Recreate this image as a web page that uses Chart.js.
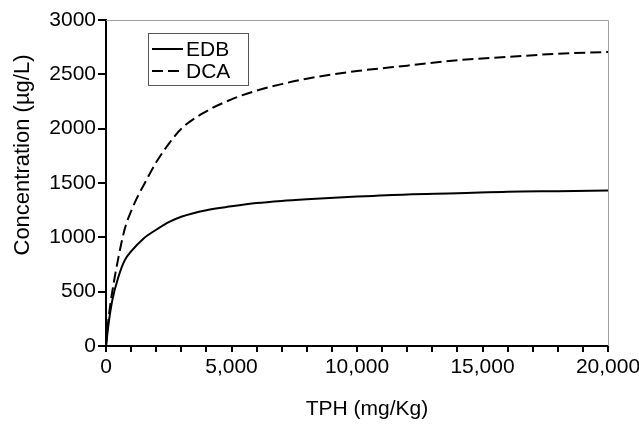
<!DOCTYPE html>
<html>
<head>
<meta charset="utf-8">
<script src="https://cdn.jsdelivr.net/npm/chart.js@4"></script>
<style>
  html, body { margin: 0; padding: 0; background: #fff; }
  #wrap { width: 639px; height: 424px; }
</style>
</head>
<body>
<div id="wrap"><canvas id="chart" width="639" height="424"></canvas></div>
<script>
// Values
var edbX = [0, 100, 250, 500, 750, 1000, 1500, 2000, 2500, 3000, 4000, 5000, 6000, 7000, 8000, 10000, 12000, 14000, 16000, 18000, 20000];
var edbY = [0, 200, 420, 640, 790, 870, 990, 1070, 1140, 1190, 1250, 1285, 1315, 1335, 1350, 1375, 1395, 1405, 1420, 1425, 1430];

var dcaX = [0, 100, 250, 500, 750, 1000, 1250, 1500, 2000, 2500, 3000, 4000, 5000, 6000, 7000, 8000, 10000, 12000, 14000, 16000, 18000, 20000];
var dcaY = [0, 250, 500, 820, 1080, 1240, 1370, 1480, 1690, 1860, 2000, 2160, 2270, 2350, 2410, 2460, 2530, 2580, 2630, 2660, 2690, 2705];

var xTicks = [0, 5000, 10000, 15000, 20000];
var yTicks = [0, 500, 1000, 1500, 2000, 2500, 3000];

var xTitle = 'TPH (mg/Kg)';
var yTitle = 'Concentration (µg/L)';

var FONT = "'Liberation Sans', Arial, sans-serif";

function toPoints(xs, ys) {
    return xs.map((x, i) => ({ x: x, y: ys[i] }));
}

// gray frame on top/right, axis titles and the boxed legend
var framePlugin = {
    id: 'frame',
    afterDraw(chart) {
        var ctx = chart.ctx;
        var a = chart.chartArea;
        ctx.save();
        ctx.strokeStyle = '#a0a0a0';
        ctx.lineWidth = 1;
        ctx.beginPath();
        ctx.moveTo(a.left, a.top + 0.5);
        ctx.lineTo(a.right + 0.5, a.top + 0.5);
        ctx.lineTo(a.right + 0.5, a.bottom);
        ctx.stroke();

        // axis titles
        ctx.fillStyle = '#000';
        ctx.textAlign = 'center';
        ctx.textBaseline = 'middle';
        ctx.font = '21px ' + FONT;
        ctx.fillText(xTitle, 367, 409);
        ctx.save();
        ctx.translate(23, 155);
        ctx.rotate(-Math.PI / 2);
        ctx.font = '22px ' + FONT;
        ctx.fillText(yTitle, 0, 0);
        ctx.restore();

        // legend box
        var bx = 148, by = 33, bw = 100, bh = 52;
        ctx.fillStyle = '#fff';
        ctx.fillRect(bx, by, bw, bh);
        ctx.strokeStyle = '#555';
        ctx.lineWidth = 1;
        ctx.strokeRect(bx + 0.5, by + 0.5, bw, bh);
        ctx.font = '21px ' + FONT;
        ctx.textAlign = 'left';
        chart.data.datasets.forEach((ds, i) => {
            var y = by + 16 + i * 22;
            ctx.strokeStyle = '#000';
            ctx.lineWidth = 2;
            ctx.setLineDash(ds.borderDash || []);
            ctx.beginPath();
            ctx.moveTo(bx + 4, y);
            ctx.lineTo(bx + 35, y);
            ctx.stroke();
            ctx.setLineDash([]);
            ctx.fillStyle = '#000';
            ctx.fillText(ds.label, bx + 38, y + 1);
        });
        ctx.restore();
    }
};

new Chart(document.getElementById('chart'), {
    type: 'line',
    data: {
        datasets: [
            {
                label: 'EDB',
                data: toPoints(edbX, edbY),
                borderColor: '#000',
                borderWidth: 2,
                pointRadius: 0,
                cubicInterpolationMode: 'monotone',
                fill: false
            },
            {
                label: 'DCA',
                data: toPoints(dcaX, dcaY),
                borderColor: '#000',
                borderWidth: 2,
                borderDash: [11, 5],
                pointRadius: 0,
                cubicInterpolationMode: 'monotone',
                fill: false
            }
        ]
    },
    options: {
        responsive: false,
        animation: false,
        layout: { padding: { top: 20, right: 31, left: 0, bottom: 0 } },
        plugins: {
            legend: { display: false },
            tooltip: { enabled: false }
        },
        scales: {
            x: {
                type: 'linear',
                min: 0,
                max: 20000,
                afterFit(scale) {
                    scale.height = 78;
                    scale.paddingLeft = 0;
                    scale.paddingRight = 0;
                },
                afterBuildTicks(scale) {
                    var t = [];
                    for (var v = 0; v <= 20000; v += 1000) t.push({ value: v });
                    scale.ticks = t;
                },
                ticks: {
                    autoSkip: false,
                    maxRotation: 0,
                    padding: 3,
                    color: '#000',
                    font: { family: FONT, size: 21 },
                    callback: v => xTicks.includes(v) ? v.toLocaleString('en-US') : ''
                },
                grid: { drawOnChartArea: false, drawTicks: true, tickLength: 6, color: '#000', lineWidth: 2 },
                border: { color: '#000', width: 2 }
            },
            y: {
                min: 0,
                max: 3000,
                afterFit(scale) {
                    scale.width = 106;
                    scale.paddingTop = 0;
                    scale.paddingBottom = 0;
                },
                afterBuildTicks(scale) {
                    scale.ticks = yTicks.map(v => ({ value: v }));
                },
                ticks: {
                    color: '#000',
                    padding: 2,
                    font: { family: FONT, size: 21 },
                    callback: v => String(v)
                },
                grid: { drawOnChartArea: false, drawTicks: true, tickLength: 8, color: '#000', lineWidth: 2 },
                border: { color: '#000', width: 2 }
            }
        }
    },
    plugins: [framePlugin]
});
</script>
</body>
</html>
